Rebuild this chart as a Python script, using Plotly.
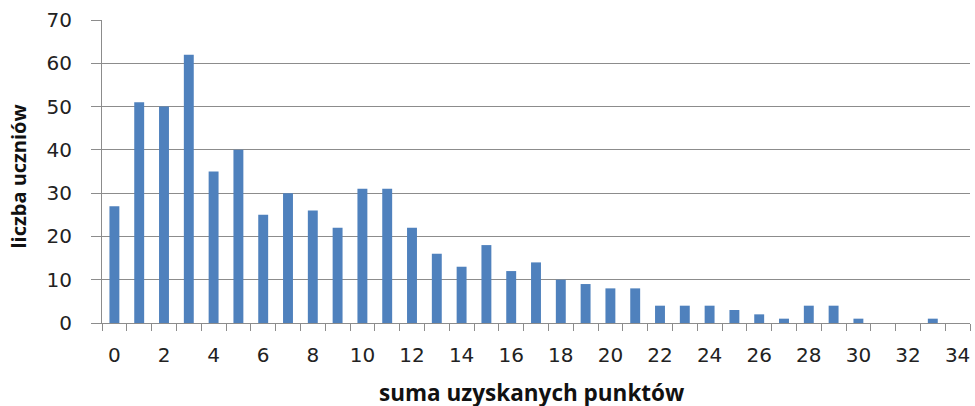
import plotly.graph_objects as go

punkty = list(range(0, 35))
liczba = [27, 51, 50, 62, 35, 40, 25, 30, 26, 22, 31, 31, 22, 16, 13, 18, 12, 14,
          10, 9, 8, 8, 4, 4, 4, 3, 2, 1, 4, 4, 1, 0, 0, 1, 0]
x_tick_labels = [str(v) for v in range(0, 35, 2)]
y_ticks = list(range(0, 71, 10))
x_title = "suma uzyskanych punktów"
y_title = "liczba uczniów"

fig = go.Figure(go.Bar(x=punkty, y=liczba, marker=dict(color="#4F81BD", line=dict(width=0)),
                       width=0.4))

grid = "#8c8c8c"
fig.update_layout(
    width=975, height=406,
    margin=dict(l=102, r=5, t=20, b=83),
    paper_bgcolor="white", plot_bgcolor="white",
    showlegend=False,
    font=dict(family="DejaVu Sans", color="#222222"),
    xaxis=dict(
        range=[-0.5, 34.5], automargin=False,
        tickvals=[int(v) for v in x_tick_labels], ticktext=x_tick_labels,
        ticks="", ticklabelstandoff=14,
        tickfont=dict(size=20, family="DejaVu Sans"),
        minor=dict(tickvals=[i - 0.5 for i in range(0, 36)], ticks="outside",
                   ticklen=7, tickcolor=grid, showgrid=False),
        showline=True, linecolor=grid, linewidth=1,
        showgrid=False, zeroline=False,
    ),
    yaxis=dict(
        range=[0, 70], tickvals=y_ticks, automargin=False,
        ticks="outside", ticklen=10, tickcolor=grid, ticklabelstandoff=15,
        tickfont=dict(size=20, family="DejaVu Sans"),
        showline=True, linecolor=grid, linewidth=1,
        showgrid=True, gridcolor=grid, gridwidth=1,
        zeroline=False,
    ),
    annotations=[
        dict(text=x_title, xref="paper", yref="paper", x=0.495, y=0,
             xanchor="center", yanchor="middle", yshift=-69, showarrow=False,
             font=dict(size=22.5, family="Open Sans", weight="bold", color="#111111")),
        dict(text=y_title, xref="paper", yref="paper", x=0, y=0.5, textangle=-90,
             xanchor="center", yanchor="middle", xshift=-84, yshift=-5, showarrow=False,
             font=dict(size=20, family="Open Sans", weight="bold", color="#111111")),
    ],
)

fig.write_html("out.html", config={"displayModeBar": False},
               post_script="document.body.style.margin='0';document.body.style.overflow='hidden';")
